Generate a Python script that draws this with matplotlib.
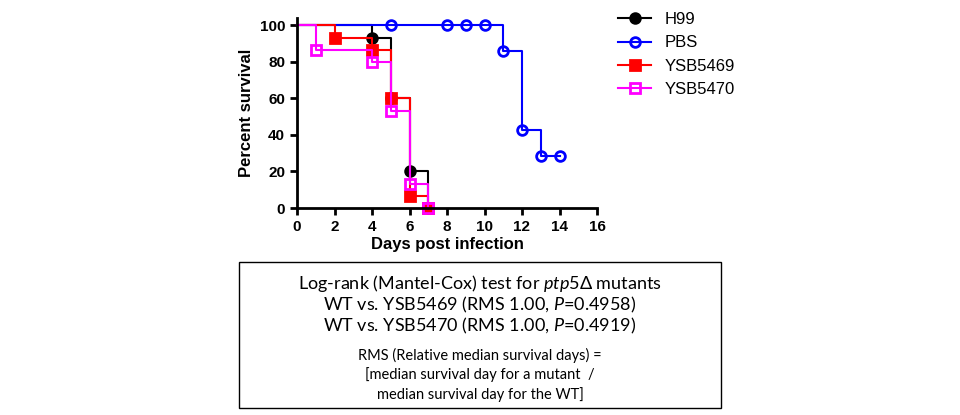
import matplotlib
matplotlib.use("Agg")
import matplotlib.pyplot as plt

h99_x = [0, 4, 5, 6, 7]; h99_y = [100, 93.3, 60, 20, 0]
pbs_x = [0, 5, 8, 9, 10, 11, 12, 13, 14]; pbs_y = [100, 100, 100, 100, 100, 85.7, 42.9, 28.6, 28.6]
y69_x = [0, 2, 4, 5, 6, 7]; y69_y = [100, 93.3, 86.7, 60, 6.7, 0]
y70_x = [0, 1, 4, 5, 6, 7]; y70_y = [100, 86.7, 80, 53.3, 13.3, 0]

plt.rcParams['font.family'] = ['Arial', 'Liberation Sans', 'DejaVu Sans']
plt.rcParams['mathtext.fontset'] = 'custom'
plt.rcParams['mathtext.it'] = 'Lato:italic'
plt.rcParams['mathtext.rm'] = 'Lato'
fig = plt.figure(figsize=(9.6, 4.15), dpi=100)
ax = fig.add_axes([297/960, 1-208/415, 300/960, 190/415])

series = [("H99", h99_x, h99_y, "black", "o", "black"),
          ("PBS", pbs_x, pbs_y, "#0000ff", "o", "none"),
          ("YSB5469", y69_x, y69_y, "#ff0000", "s", "#ff0000"),
          ("YSB5470", y70_x, y70_y, "#ff00ff", "s", "none")]
for name, x, y, c, m, fc in series:
    ax.step(x, y, where="post", color=c, lw=1.5, clip_on=False)
    ax.plot(x[1:], y[1:], ls="none", marker=m, ms=7, mec=c, mfc=fc, mew=2, clip_on=False)
    ax.plot([], [], color=c, lw=1.5, marker=m, ms=7, mec=c, mfc=fc, mew=2, label=name)

ax.set_xlim(0, 16); ax.set_ylim(0, 104)
ax.set_xticks(range(0, 17, 2)); ax.set_yticks(range(0, 101, 20))
for s in ["top", "right"]:
    ax.spines[s].set_visible(False)
for s in ["left", "bottom"]:
    ax.spines[s].set_linewidth(2)
ax.tick_params(width=2, length=5, labelsize=11)
for t in ax.get_xticklabels() + ax.get_yticklabels():
    t.set_fontweight("bold")
ax.set_xlabel("Days post infection", fontsize=12, fontweight="bold", labelpad=2)
ax.set_ylabel("Percent survival", fontsize=12, fontweight="bold")
ax.legend(loc="upper left", bbox_to_anchor=(1.02, 1.11), frameon=False, fontsize=12,
          handlelength=2, labelspacing=0.5)

fig.patches.append(plt.Rectangle((239/960, 1-408/415), 482/960, 146/415,
                                 transform=fig.transFigure, fill=False, ec="black", lw=1))
cx = 480/960
bf = dict(ha="center", va="center", family="Lato")
fig.text(cx, 1-283/415, r"Log-rank (Mantel-Cox) test for $ptp5$Δ mutants", fontsize=13, **bf)
fig.text(cx, 1-305/415, r"WT vs. YSB5469 (RMS 1.00, $P$=0.4958)", fontsize=13, **bf)
fig.text(cx, 1-326/415, r"WT vs. YSB5470 (RMS 1.00, $P$=0.4919)", fontsize=13, **bf)
fig.text(cx, 1-355/415, "RMS (Relative median survival days) =", fontsize=10.5, **bf)
fig.text(cx, 1-375/415, "[median survival day for a mutant  /", fontsize=10.5, **bf)
fig.text(cx, 1-395/415, "median survival day for the WT]", fontsize=10.5, **bf)
fig.savefig("out.png", dpi=100)
